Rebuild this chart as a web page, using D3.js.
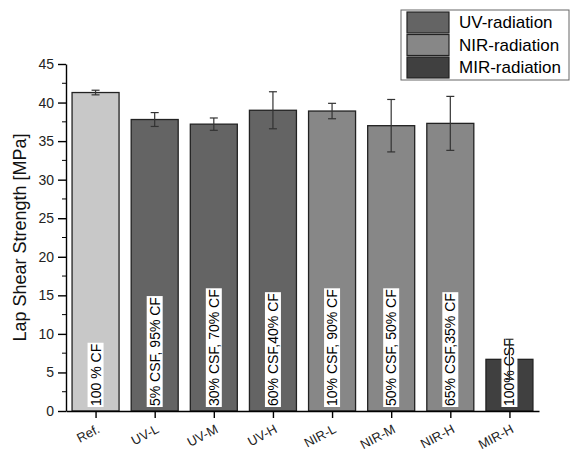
<!DOCTYPE html>
<html>
<head>
<meta charset="utf-8">
<script src="https://cdn.jsdelivr.net/npm/d3@7"></script>
<style>
  body { margin: 0; background: #fff; }
  svg { font-family: "Liberation Sans", Arial, sans-serif; }
</style>
</head>
<body>
<svg id="chart" width="573" height="455"></svg>
<script>
const categories = ['Ref.', 'UV-L', 'UV-M', 'UV-H', 'NIR-L', 'NIR-M', 'NIR-H', 'MIR-H'];
const strength = [41.3, 37.8, 37.2, 39.0, 38.9, 37.0, 37.3, 6.7];
const errors = [0.3, 0.9, 0.8, 2.4, 1.0, 3.4, 3.5, 2.6];
const groups = ['Ref', 'UV', 'UV', 'UV', 'NIR', 'NIR', 'NIR', 'MIR'];
const compositions = ['100 % CF', '5% CSF, 95% CF', '30% CSF, 70% CF', '60% CSF,40% CF',
  '10% CSF, 90% CF', '50% CSF, 50% CF', '65% CSF,35% CF', '100% CSF'];
const legendNames = ['UV-radiation', 'NIR-radiation', 'MIR-radiation'];
const legendGroups = ['UV', 'NIR', 'MIR'];
const yTicks = [0, 5, 10, 15, 20, 25, 30, 35, 40, 45];

const svg = d3.select('svg#chart'),
  margin = {left: 66, right: 34, top: 64, bottom: 44};

const width = +svg.attr('width') - margin.left - margin.right,
  height = +svg.attr('height') - margin.top - margin.bottom;

const color = d3.scaleOrdinal()
  .domain(['Ref', 'UV', 'NIR', 'MIR'])
  .range(['#c8c8c8', '#646464', '#878787', '#404040']);

const x = d3.scalePoint().domain(categories).range([0, width]).padding(0.5),
  y = d3.scaleLinear().domain([0, 45]).range([height, 0]);

const barW = x.step() * 0.795;

const g = svg.append('g')
  .attr('transform', `translate(${margin.left},${margin.top})`);

const data = categories.map((c, i) => ({
  name: c, value: strength[i], err: errors[i], group: groups[i], label: compositions[i]
}));

// bars
g.selectAll('rect.bar')
  .data(data)
  .enter()
  .append('rect')
  .classed('bar', true)
  .attr('x', d => x(d.name) - barW / 2)
  .attr('y', d => y(d.value))
  .attr('width', barW)
  .attr('height', d => height - y(d.value))
  .attr('stroke', '#222')
  .attr('stroke-width', 1.3)
  .style('fill', d => color(d.group));

// composition labels inside bars
const lab = g.selectAll('g.lab')
  .data(data)
  .enter()
  .append('g')
  .attr('class', 'lab')
  .attr('transform', d => `translate(${x(d.name) + 5},${height - 5}) rotate(-90)`);

lab.append('text')
  .attr('x', 0)
  .attr('y', 0)
  .attr('font-size', 14)
  .attr('fill', '#000')
  .text(d => d.label)
  .each(function () {
    const b = this.getBBox();
    d3.select(this.parentNode).insert('rect', 'text')
      .attr('x', b.x - 1)
      .attr('y', b.y)
      .attr('width', b.width + 2)
      .attr('height', b.height)
      .attr('fill', '#fff');
  });

// error bars
const eb = g.selectAll('g.err')
  .data(data)
  .enter()
  .append('g')
  .attr('class', 'err')
  .attr('stroke', '#333')
  .attr('stroke-width', 1.2);

eb.append('line')
  .attr('x1', d => x(d.name)).attr('x2', d => x(d.name))
  .attr('y1', d => y(d.value + d.err)).attr('y2', d => y(d.value - d.err));
eb.append('line')
  .attr('x1', d => x(d.name) - 4).attr('x2', d => x(d.name) + 4)
  .attr('y1', d => y(d.value + d.err)).attr('y2', d => y(d.value + d.err));
eb.append('line')
  .attr('x1', d => x(d.name) - 4).attr('x2', d => x(d.name) + 4)
  .attr('y1', d => y(d.value - d.err)).attr('y2', d => y(d.value - d.err));

// y axis with minor ticks
const yAxis = g.append('g')
  .attr('class', 'axis yaxis')
  .call(d3.axisLeft(y).tickValues(yTicks).tickSize(8).tickPadding(4).tickSizeOuter(0));

const minor = d3.range(2.5, 45, 5);
yAxis.selectAll('line.minor')
  .data(minor)
  .enter()
  .append('line')
  .attr('class', 'minor')
  .attr('x1', -4).attr('x2', 0)
  .attr('y1', d => y(d)).attr('y2', d => y(d))
  .attr('stroke', '#000');

// x axis
const xAxis = g.append('g')
  .attr('class', 'axis xaxis')
  .attr('transform', `translate(0,${height})`)
  .call(d3.axisBottom(x).tickSize(7).tickSizeOuter(0));

xAxis.selectAll('text')
  .attr('text-anchor', 'end')
  .attr('dy', 0)
  .attr('transform', 'translate(0,12) rotate(-28)');

svg.selectAll('.axis path, .axis line').attr('stroke', '#000').attr('stroke-width', 1.4);
svg.selectAll('.axis line.minor').attr('stroke-width', 1);
svg.selectAll('.axis text').attr('font-size', 14).attr('font-family', '"Liberation Sans", Arial, sans-serif').attr('fill', '#222');
xAxis.selectAll('text').attr('font-size', 13);

// y label
svg.append('text')
  .attr('transform', `translate(26,${margin.top + height / 2}) rotate(-90)`)
  .attr('text-anchor', 'middle')
  .attr('font-size', 18)
  .attr('fill', '#111')
  .text('Lap Shear Strength [MPa]');

// legend
const leg = svg.append('g').attr('transform', 'translate(401,10)');
leg.append('rect')
  .attr('width', 168).attr('height', 70)
  .attr('fill', '#fff').attr('stroke', '#666').attr('stroke-width', 1);

const items = leg.selectAll('g.item')
  .data(legendNames)
  .enter()
  .append('g')
  .attr('class', 'item')
  .attr('transform', (d, i) => `translate(6,${2 + i * 22.5})`);

items.append('rect')
  .attr('width', 42).attr('height', 21)
  .attr('fill', (d, i) => color(legendGroups[i]))
  .attr('stroke', '#222').attr('stroke-width', 1.2);

items.append('text')
  .attr('x', 52).attr('y', 16)
  .attr('font-size', 17)
  .attr('fill', '#000')
  .text(d => d);
</script>
</body>
</html>
